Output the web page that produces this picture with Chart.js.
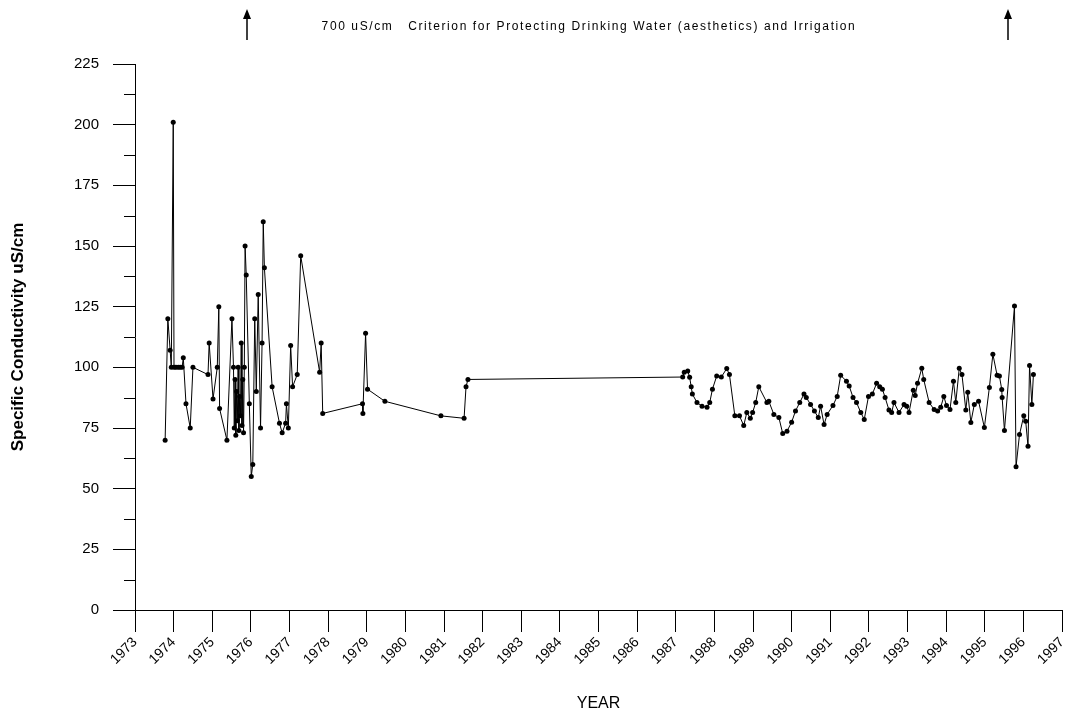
<!DOCTYPE html>
<html>
<head>
<meta charset="utf-8">
<script src="https://cdn.jsdelivr.net/npm/chart.js@4"></script>
<style>
  html, body { margin: 0; padding: 0; background: #fff; }
  #wrap { width: 1084px; height: 717px; }
</style>
</head>
<body>
<div id="wrap"><canvas id="myChart"></canvas></div>
<script>
// decimal years (offset from 1973 added below) and conductivity values
const yearOffsets = [
  0.78, 0.85, 0.91, 0.94, 0.99, 1.01, 1.06, 1.12, 1.17, 1.22, 1.25, 1.32, 1.43, 1.50,
  1.89, 1.92, 2.02, 2.13, 2.17, 2.19, 2.38, 2.51,
  2.55, 2.57, 2.59, 2.61, 2.63, 2.65, 2.67, 2.69, 2.71, 2.73, 2.75, 2.77, 2.79,
  2.81, 2.83, 2.85, 2.88, 2.96, 3.01, 3.05, 3.10, 3.14, 3.19, 3.25, 3.29, 3.32, 3.35,
  3.55, 3.74, 3.81, 3.90, 3.92, 3.97, 4.03, 4.08, 4.20, 4.29, 4.78, 4.82, 4.86,
  5.89, 5.90, 5.97, 6.02, 6.47, 7.92, 8.52, 8.57, 8.62, 14.18,
  14.22, 14.31, 14.36, 14.40, 14.43, 14.55, 14.68, 14.81, 14.88, 14.95, 15.06, 15.18,
  15.32, 15.39, 15.53, 15.65, 15.76, 15.84, 15.93, 15.99, 16.07, 16.15, 16.36, 16.41,
  16.54, 16.67, 16.77, 16.88, 17.00, 17.10, 17.21, 17.32, 17.38, 17.49, 17.59, 17.69,
  17.75, 17.84, 17.92, 18.07, 18.18, 18.27, 18.42, 18.49, 18.59, 18.68, 18.79, 18.88,
  18.99, 19.09, 19.20, 19.28, 19.35, 19.42, 19.52, 19.59, 19.65, 19.78, 19.91, 19.98,
  20.04, 20.15, 20.20, 20.26, 20.37, 20.42, 20.56, 20.69, 20.78, 20.86, 20.94, 21.01,
  21.10, 21.19, 21.25, 21.34, 21.41, 21.51, 21.56, 21.64, 21.73, 21.84, 21.99, 22.12,
  22.21, 22.32, 22.38, 22.44, 22.45, 22.51, 22.77, 22.81, 22.90, 23.01, 23.06, 23.12,
  23.16, 23.22, 23.26
];
const conductivity = [
  70, 120, 107, 100, 201, 100, 100, 100, 100, 100, 104, 85, 75, 100,
  97, 110, 87, 100, 125, 83, 70, 120,
  100, 75, 95, 72, 90, 78, 100, 74, 88, 80, 110, 76, 95, 73, 100,
  150, 138, 85, 55, 60, 120, 90, 130, 75, 110, 160, 141, 92,
  77, 73, 77, 85, 75, 109, 92, 97, 146, 98, 110, 81, 85,
  81, 114, 91, 86, 80, 79, 92, 95, 96, 98,
  98.5, 95.9, 92, 89, 85.5, 84, 83.5, 85.5, 91, 96.4, 96, 99.5,
  97, 80, 80, 76, 81.4, 79, 81.4, 85.5, 92, 85.5, 86, 80.6,
  79.3, 72.7, 73.7, 77.4, 82, 85.5, 89, 87.6, 84.7, 82, 79.3, 84,
  76.4, 80.6, 84.3, 88, 96.7, 94.3, 92.3, 87.6, 85.5, 81.4, 78.5, 88,
  89, 93.4, 92, 91, 87.6, 82.4, 81.4, 85.5, 81.4, 84.7, 84, 81.4,
  90.6, 88.4, 93.4, 99.6, 95, 85.5, 82.6, 82, 83.5, 88, 84.3, 82.6,
  94.3, 85.5, 99.6, 97, 82.4, 89.7, 77.3, 84.7, 86, 75.2, 91.7, 105.4,
  96.7, 96.4, 90.9, 87.6, 74, 125.3, 59, 72.3, 80, 77.8, 67.5, 100.8,
  84.7, 97, 72.3
];
const yTicks = [0, 25, 50, 75, 100, 125, 150, 175, 200, 225];
const criterionText = '700 uS/cm   Criterion for Protecting Drinking Water (aesthetics) and Irrigation';

const points = yearOffsets.map((o, i) => ({ x: 1973 + o, y: conductivity[i] }));
const FONT = 'Arial, "Liberation Sans", sans-serif';

const headerPlugin = {
  id: 'header',
  afterDraw(chart) {
    const ctx = chart.ctx;
    ctx.save();
    ctx.fillStyle = '#000';
    ctx.strokeStyle = '#000';
    // minor y ticks halfway between labelled ticks
    const ys = chart.scales.y;
    ctx.lineWidth = 1;
    for (let i = 0; i < yTicks.length - 1; i++) {
      const py = Math.round(ys.getPixelForValue((yTicks[i] + yTicks[i + 1]) / 2)) + 0.5;
      ctx.beginPath();
      ctx.moveTo(ys.right - 11, py);
      ctx.lineTo(ys.right, py);
      ctx.stroke();
    }
    ctx.font = '12px ' + FONT;
    ctx.letterSpacing = '1.6px';
    ctx.textAlign = 'center';
    ctx.textBaseline = 'middle';
    ctx.fillText(criterionText, 589, 27);
    ctx.letterSpacing = '0px';
    [247, 1008].forEach(function (x) {
      ctx.lineWidth = 1.5;
      ctx.beginPath();
      ctx.moveTo(x, 40);
      ctx.lineTo(x, 14);
      ctx.stroke();
      ctx.beginPath();
      ctx.moveTo(x, 9);
      ctx.lineTo(x - 4, 19);
      ctx.lineTo(x + 4, 19);
      ctx.closePath();
      ctx.fill();
    });
    ctx.restore();
  }
};

const config = {
  type: 'line',
  data: {
    datasets: [{
      data: points,
      borderColor: '#000',
      backgroundColor: '#000',
      borderWidth: 1,
      pointRadius: 2.5,
      pointBorderWidth: 0,
      tension: 0
    }]
  },
  options: {
    responsive: true,
    maintainAspectRatio: false,
    animation: false,
    layout: { padding: { top: 64, right: 22, left: 0, bottom: 0 } },
    plugins: { legend: { display: false }, tooltip: { enabled: false } },
    scales: {
      x: {
        type: 'linear',
        min: 1973,
        max: 1997,
        grid: { display: true, drawOnChartArea: false, drawTicks: true, tickLength: 22, color: '#000' },
        border: { color: '#000' },
        ticks: {
          stepSize: 1,
          color: '#000',
          maxRotation: 45,
          minRotation: 45,
          autoSkip: false,
          padding: 2,
          font: { size: 14, family: FONT },
          callback: v => String(v)
        },
        title: {
          display: true,
          text: 'YEAR',
          color: '#000',
          font: { size: 16, family: FONT },
          padding: { top: 0 }
        },
        afterFit(scale) { scale.height = 107; }
      },
      y: {
        min: 0,
        max: 225,
        afterBuildTicks(scale) { scale.ticks = yTicks.map(v => ({ value: v })); },
        grid: { display: true, drawOnChartArea: false, drawTicks: true, tickLength: 22, color: '#000' },
        border: { color: '#000' },
        ticks: {
          color: '#000',
          padding: 14,
          font: { size: 15, family: FONT }
        },
        title: {
          display: true,
          text: 'Specific Conductivity uS/cm',
          color: '#000',
          font: { size: 17, weight: 'bold', family: FONT },
          padding: { top: 8, bottom: 14 }
        },
        afterFit(scale) { scale.width = 135; }
      }
    }
  },
  plugins: [headerPlugin]
};

var myChart = new Chart(document.getElementById('myChart'), config);
</script>
</body>
</html>
